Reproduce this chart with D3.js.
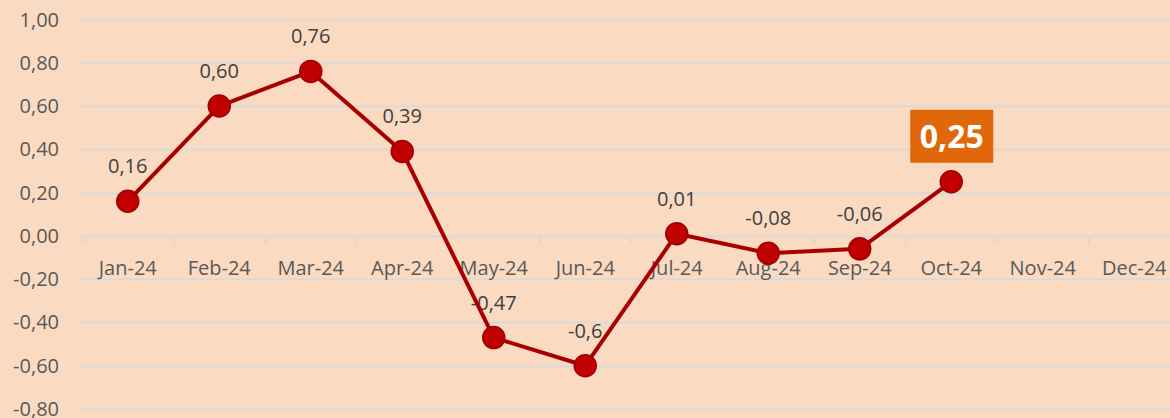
<!DOCTYPE html>
<html>
<head>
<meta charset="utf-8">
<script src="https://cdn.jsdelivr.net/npm/d3@7"></script>
<style>
  html, body { margin: 0; padding: 0; background: #FADAC1; }
  svg { display: block; }
</style>
</head>
<body>
<svg id="chart" width="1170" height="418"></svg>
<script>
// values
var months = ["Jan-24","Feb-24","Mar-24","Apr-24","May-24","Jun-24","Jul-24","Aug-24","Sep-24","Oct-24","Nov-24","Dec-24"];
var values = [0.16, 0.60, 0.76, 0.39, -0.47, -0.6, 0.01, -0.08, -0.06, 0.25];
var labels = ["0,16","0,60","0,76","0,39","-0,47","-0,6","0,01","-0,08","-0,06","0,25"];
var yTicks = [1.0, 0.8, 0.6, 0.4, 0.2, 0, -0.2, -0.4, -0.6, -0.8];

var W = 1170, H = 418;
var left = 82, right = 1180;
var font = "'Open Sans', 'Noto Sans', sans-serif";

var svg = d3.select("#chart");

var x = d3.scaleBand().domain(months).range([left, right]);
var y = d3.scaleLinear().domain([-0.8, 1.0]).range([409, 19.5]);

var fmt = function(v){ return d3.format(".2f")(v).replace(".", ",").replace("−","-"); };

// gridlines
svg.append("g").selectAll("line")
  .data(yTicks)
  .enter().append("line")
  .attr("x1", left).attr("x2", W)
  .attr("y1", function(d){ return Math.round(y(d)) + 0.5; })
  .attr("y2", function(d){ return Math.round(y(d)) + 0.5; })
  .attr("stroke", "#D9D9D9")
  .attr("stroke-width", 2);

// y labels
svg.append("g").selectAll("text")
  .data(yTicks)
  .enter().append("text")
  .attr("x", 59)
  .attr("y", function(d){ return y(d); })
  .attr("dy", "0.35em")
  .attr("text-anchor", "end")
  .attr("font-family", font)
  .attr("font-size", 20)
  .attr("fill", "#595959")
  .text(fmt);

// category ticks at zero line
var bounds = months.map(function(m){ return x(m); }).concat([right]);
svg.append("g").selectAll("line")
  .data(bounds)
  .enter().append("line")
  .attr("x1", function(d){ return d + 0.5; })
  .attr("x2", function(d){ return d + 0.5; })
  .attr("y1", y(0))
  .attr("y2", y(0) + 8)
  .attr("stroke", "#D9D9D9")
  .attr("stroke-width", 2);

svg.append("g").selectAll("text")
  .data(months)
  .enter().append("text")
  .attr("x", function(d){ return x(d) + x.bandwidth()/2; })
  .attr("y", y(0) + 39)
  .attr("text-anchor", "middle")
  .attr("font-family", font)
  .attr("font-size", 20)
  .attr("fill", "#595959")
  .text(function(d){ return d; });

var pts = values.map(function(v, i){
  return { x: x(months[i]) + x.bandwidth()/2, y: y(v), label: labels[i], last: i === values.length - 1 };
});

// data labels (under the line)
svg.append("g").selectAll("text")
  .data(pts.filter(function(p){ return !p.last; }))
  .enter().append("text")
  .attr("x", function(d){ return d.x; })
  .attr("y", function(d){ return d.y - 28; })
  .attr("text-anchor", "middle")
  .attr("font-family", font)
  .attr("font-size", 20)
  .attr("fill", "#404040")
  .text(function(d){ return d.label; });

// highlighted last value
var lp = pts[pts.length - 1];
svg.append("rect")
  .attr("x", lp.x - 41).attr("y", lp.y - 72)
  .attr("width", 83).attr("height", 53)
  .attr("fill", "#E0680A");
svg.append("text")
  .attr("x", lp.x + 0.5).attr("y", lp.y - 45.5)
  .attr("dy", "0.36em")
  .attr("text-anchor", "middle")
  .attr("font-family", font)
  .attr("font-weight", "bold")
  .attr("font-size", 32)
  .attr("fill", "#FFFFFF")
  .text(lp.label);

// line
svg.append("path")
  .datum(pts)
  .attr("fill", "none")
  .attr("stroke", "#A80000")
  .attr("stroke-width", 4)
  .attr("stroke-linejoin", "round")
  .attr("d", d3.line().x(function(d){ return d.x; }).y(function(d){ return d.y; }));

// markers
svg.append("g").selectAll("circle")
  .data(pts)
  .enter().append("circle")
  .attr("cx", function(d){ return d.x; })
  .attr("cy", function(d){ return d.y; })
  .attr("r", 11)
  .attr("fill", "#C00000")
  .attr("stroke", "#A00000")
  .attr("stroke-width", 1.5);
</script>
</body>
</html>
